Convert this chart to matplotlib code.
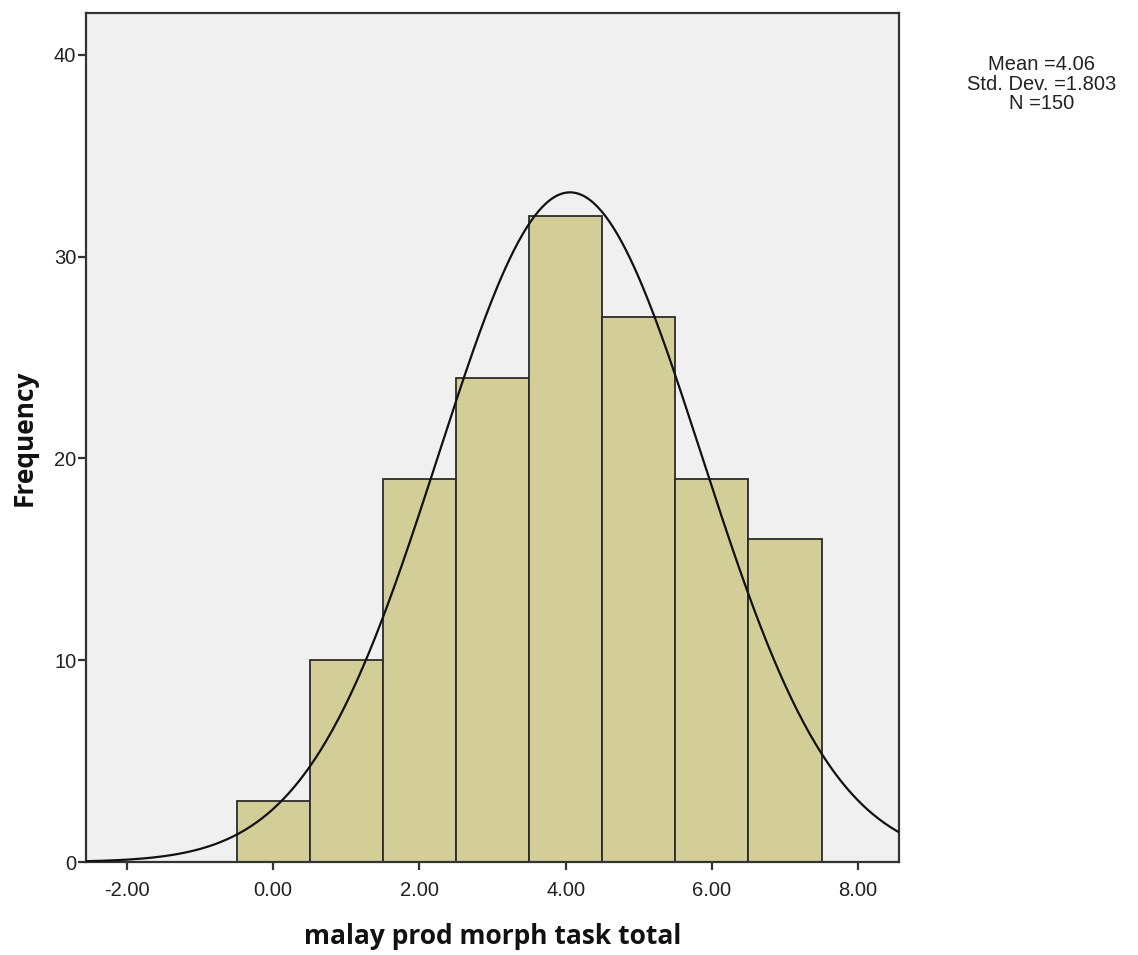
import numpy as np
import matplotlib
matplotlib.use("Agg")
import matplotlib.pyplot as plt

# histogram of the task totals, one bin per score
bin_centers = [0, 1, 2, 3, 4, 5, 6, 7]
counts = [3, 10, 19, 24, 32, 27, 19, 16]
x_ticks = [-2, 0, 2, 4, 6, 8]
y_ticks = [0, 10, 20, 30, 40]
mean = 4.06
std = 1.803
n = 150

fig = plt.figure(figsize=(11.38, 9.55), dpi=100)
ax = fig.add_axes([86 / 1138, 93 / 955, 813 / 1138, 849 / 955])
ax.set_facecolor("#f0f0f0")

ax.bar(bin_centers, counts, width=1.0, color="#d3ce98", edgecolor="#2b2b2b",
       linewidth=1.3, zorder=2)

# normal curve scaled to counts (bin width 1)
xs = np.linspace(-2.56, 8.56, 400)
ys = n * np.exp(-0.5 * ((xs - mean) / std) ** 2) / (std * np.sqrt(2 * np.pi))
ax.plot(xs, ys, color="#111111", linewidth=1.6, zorder=3)

ax.set_xlim(-2.56, 8.56)
ax.set_ylim(0, 42.08)
ax.set_xticks(x_ticks)
ax.set_xticklabels([f"{v:.2f}" for v in x_ticks])
ax.set_yticks(y_ticks)
ax.set_yticklabels([str(v) for v in y_ticks])

for s in ax.spines.values():
    s.set_color("#333333")
    s.set_linewidth(1.6)
ax.tick_params(axis="both", length=6, width=1.6, color="#333333",
               labelsize=14.5, labelcolor="#222222")
ax.tick_params(axis="x", pad=8)
ax.tick_params(axis="y", pad=1)
for lbl in ax.get_xticklabels() + ax.get_yticklabels():
    lbl.set_family("Liberation Sans")

ax.set_xlabel("malay prod morph task total", fontsize=19, fontweight="bold",
              family="Open Sans", color="#111111", labelpad=16)
ax.set_ylabel("Frequency", fontsize=19, fontweight="bold",
              family="Open Sans", color="#111111", labelpad=12)

fig.text(1042 / 1138, 1 - 84 / 955,
         f"Mean ={mean:.2f}\nStd. Dev. ={std:.3f}\nN ={n}",
         ha="center", va="center", fontsize=14.5, family="Liberation Sans",
         color="#222222", linespacing=1.05)

fig.savefig("out.png", dpi=100, facecolor="white")
